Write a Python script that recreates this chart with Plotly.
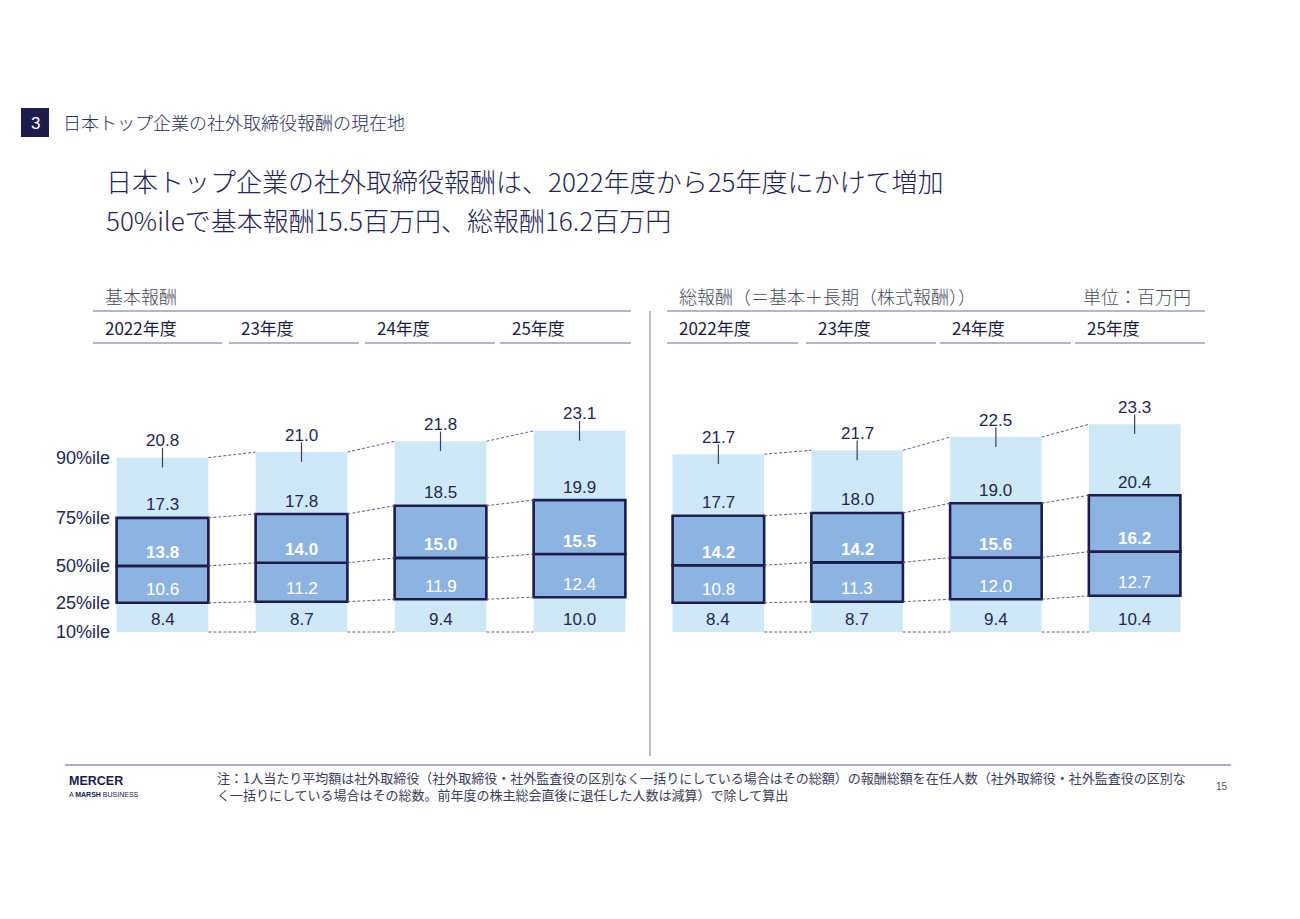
import plotly.graph_objects as go

# ---------------- data ----------------
year_labels = ["2022年度", "23年度", "24年度", "25年度"]
percentile_labels = ["10%ile", "25%ile", "50%ile", "75%ile", "90%ile"]

base_p10 = [8.4, 8.7, 9.4, 10.0]
base_p25 = [10.6, 11.2, 11.9, 12.4]
base_p50 = [13.8, 14.0, 15.0, 15.5]
base_p75 = [17.3, 17.8, 18.5, 19.9]
base_p90 = [20.8, 21.0, 21.8, 23.1]

total_p10 = [8.4, 8.7, 9.4, 10.4]
total_p25 = [10.8, 11.3, 12.0, 12.7]
total_p50 = [14.2, 14.2, 15.6, 16.2]
total_p75 = [17.7, 18.0, 19.0, 20.4]
total_p90 = [21.7, 21.7, 22.5, 23.3]

# ---------------- layout constants ----------------
W, H = 1300, 919
OFF = 8  # page body margin
BASE_PY = 632.0
PX_PER_UNIT = 3.48
BAR_W = 0.66
NAVY = "#1c1d4b"
TXT = "#232752"
LIGHT = "#cfe8f8"
MED = "#8db4e1"
CJK = "Noto Sans CJK JP"
NUM = "Arial, Liberation Sans, sans-serif"


def px(x):
    return (x - OFF) / W


def py(y):
    return 1 - (y - OFF) / H


fig = go.Figure()

Y_TOP_PX, Y_BOT_PX = 360, 700
y_range = [(BASE_PY - Y_BOT_PX) / PX_PER_UNIT, (BASE_PY - Y_TOP_PX) / PX_PER_UNIT]
y_domain = [py(Y_BOT_PX), py(Y_TOP_PX)]

panels = [
    ("x", "y", [base_p10, base_p25, base_p50, base_p75], base_p90),
    ("x2", "y2", [total_p10, total_p25, total_p50, total_p75], total_p90),
]

annotations = []
shapes = []

for xa, ya, segs, p90 in panels:
    n = len(segs[0])
    xs = list(range(n))
    bounds = [[0.0] * n]
    for s in segs:
        bounds.append([round(b + v, 3) for b, v in zip(bounds[-1], s)])
    for k in (0, 3):
        fig.add_trace(go.Bar(x=xs, y=segs[k], base=bounds[k], width=BAR_W,
                             marker=dict(color=LIGHT, line=dict(width=0)),
                             xaxis=xa, yaxis=ya, showlegend=False, hoverinfo="skip"))
    for k in range(5):
        cx, cy = [], []
        for i in range(n - 1):
            cx += [i + BAR_W / 2, i + 1 - BAR_W / 2, None]
            cy += [bounds[k][i], bounds[k][i + 1], None]
        fig.add_trace(go.Scatter(x=cx, y=cy, mode="lines",
                                 line=dict(color="#5d6183", width=1, dash="3px,2px"),
                                 xaxis=xa, yaxis=ya, showlegend=False, hoverinfo="skip"))
    for k in (1, 2):
        fig.add_trace(go.Bar(x=xs, y=segs[k], base=bounds[k], width=BAR_W,
                             marker=dict(color=MED, line=dict(width=2.6, color=NAVY)),
                             xaxis=xa, yaxis=ya, showlegend=False, hoverinfo="skip"))
    fig.add_trace(go.Scatter(x=xs, y=bounds[4], mode="markers",
                             marker=dict(symbol="line-ns", size=14,
                                         line=dict(width=1.2, color="#3c4060")),
                             xaxis=xa, yaxis=ya, showlegend=False, hoverinfo="skip"))
    for i in xs:
        for k, s in enumerate(segs):
            white = k in (1, 2)
            annotations.append(dict(
                x=i, y=bounds[k][i], xref=xa, yref=ya, yshift=13, showarrow=False,
                text=(f"<b>{s[i]:.1f}</b>" if k == 2 else f"{s[i]:.1f}"),
                font=dict(family=NUM, size=17, color="white" if white else TXT),
                xanchor="center", yanchor="middle"))
        annotations.append(dict(
            x=i, y=bounds[4][i], xref=xa, yref=ya, yshift=17, showarrow=False,
            text=f"{p90[i]:.1f}", font=dict(family=NUM, size=17, color=TXT),
            xanchor="center", yanchor="middle"))
    if xa == "x":
        for k, lab in enumerate(percentile_labels):
            annotations.append(dict(
                x=px(54), y=bounds[k][0], xref="paper", yref=ya, showarrow=False,
                text=lab, font=dict(family=NUM, size=18, color=TXT),
                xanchor="left", yanchor="middle"))

axis_common = dict(visible=False, range=[-0.5, 3.5], fixedrange=True)
fig.update_layout(
    xaxis=dict(domain=[px(93), px(649)], anchor="y", **axis_common),
    xaxis2=dict(domain=[px(649), px(1204)], anchor="y2", **axis_common),
    yaxis=dict(domain=y_domain, range=y_range, visible=False, anchor="x"),
    yaxis2=dict(domain=y_domain, range=y_range, visible=False, anchor="x2"),
    barmode="overlay",
)


def text(x, y, s, size, color=TXT, family=CJK, anchor="left", weight=None, yanchor="middle"):
    f = dict(family=family, size=size, color=color)
    if weight:
        f["weight"] = weight
    annotations.append(dict(x=px(x), y=py(y), xref="paper", yref="paper", text=s,
                            showarrow=False, xanchor=anchor, yanchor=yanchor, font=f,
                            align="left"))


# section marker
shapes.append(dict(type="rect", xref="paper", yref="paper", x0=px(21), x1=px(49),
                   y0=py(137), y1=py(108), fillcolor="#1b1c4a", line=dict(width=0)))
text(35, 123, "3", 17, color="white", family=NUM, anchor="center")
text(61, 122, "日本トップ企業の社外取締役報酬の現在地", 18, color="#2a2e5e", weight=300)

# title (two lines)
text(104, 181, "日本トップ企業の社外取締役報酬は、2022年度から25年度にかけて増加",
     26, color="#1f2454", weight=300)
text(104, 219, "50%ileで基本報酬15.5百万円、総報酬16.2百万円", 26, color="#1f2454", weight=300)

# panel headers
text(103, 296, "基本報酬", 18, color="#4a4c60", weight=300)
text(677, 296, "総報酬（＝基本＋長期（株式報酬））", 18, color="#4a4c60", weight=300)
text(1193, 296, "単位：百万円", 18, color="#4a4c60", anchor="right", weight=300)

LINE_C = "#b3b6ca"
for (a, b) in [(93, 631), (667, 1205)]:
    shapes.append(dict(type="line", xref="paper", yref="paper", x0=px(a), x1=px(b),
                       y0=py(311), y1=py(311), line=dict(color=LINE_C, width=1.8)))
left_cols = [(93, 222), (229, 359), (365, 495), (500, 631)]
right_cols = [(667, 798), (806, 936), (940, 1071), (1075, 1205)]
for cols in (left_cols, right_cols):
    for (a, b), lab in zip(cols, year_labels):
        shapes.append(dict(type="line", xref="paper", yref="paper", x0=px(a), x1=px(b),
                           y0=py(343), y1=py(343), line=dict(color=LINE_C, width=1.8)))
        text(a + 10, 327, lab, 17, color="#1a1c40")

shapes.append(dict(type="line", xref="paper", yref="paper", x0=px(650), x1=px(650),
                   y0=py(311), y1=py(756), line=dict(color="#8e92b2", width=1.2)))
shapes.append(dict(type="line", xref="paper", yref="paper", x0=px(65), x1=px(1231),
                   y0=py(765), y1=py(765), line=dict(color="#8e92b2", width=1.5)))

text(67, 781, "<b>MERCER</b>", 12.5, color="#1b1c4a", family=NUM)
text(67, 794, "A <b>MARSH</b> BUSINESS", 7, color="#1b1c4a", family=NUM)
text(215, 777, "注：1人当たり平均額は社外取締役（社外取締役・社外監査役の区別なく一括りにしている場合はその総額）の報酬総額を在任人数（社外取締役・社外監査役の区別な",
     13, color="#3a3d5a")
text(215, 794, "く一括りにしている場合はその総数。前年度の株主総会直後に退任した人数は減算）で除して算出",
     13, color="#3a3d5a")
text(1230, 786, "15", 10, color="#555", family=NUM, anchor="right")

fig.update_layout(
    width=W, height=H, margin=dict(l=0, r=0, t=0, b=0),
    paper_bgcolor="white", plot_bgcolor="white",
    annotations=annotations, shapes=shapes, showlegend=False,
)

fig.write_html("out.html")
